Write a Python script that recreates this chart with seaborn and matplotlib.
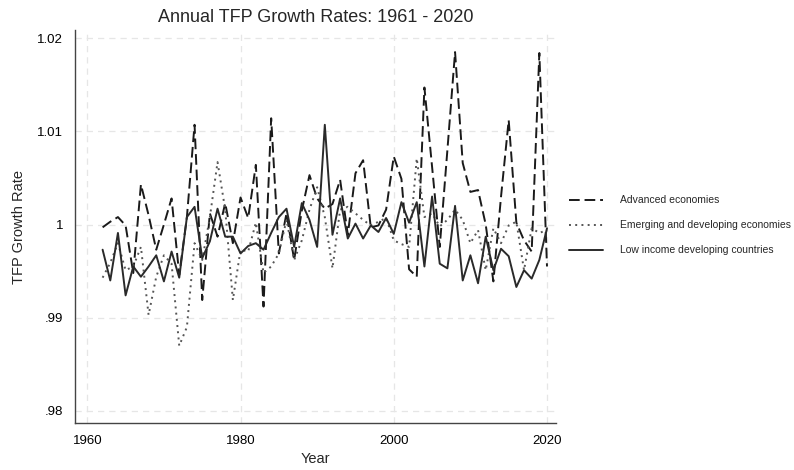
# Annual TFP growth rates, Stata-like look
import pandas as pd
import matplotlib
matplotlib.use("Agg")
import matplotlib.pyplot as plt
import seaborn as sns

# Data
years = list(range(1962, 2021))

advanced = [
    0.9997, 1.0003, 1.0008, 0.9999, 0.9948, 1.0043, 1.0010, 0.9973, 1.0000, 1.0028,  # 1962-1971
    0.9946, 1.0008, 1.0107, 0.9919, 1.0012, 0.9987, 1.0023, 0.9980, 1.0029, 1.0007,  # 1972-1981
    1.0064, 0.9912, 1.0114, 0.9969, 1.0012, 0.9962, 1.0015, 1.0053, 1.0028, 1.0017,  # 1982-1991
    1.0022, 1.0048, 0.9989, 1.0055, 1.0069, 0.9997, 0.9999, 1.0016, 1.0073, 1.0049,  # 1992-2001
    0.9952, 0.9944, 1.0147, 1.0062, 0.9976, 1.0080, 1.0185, 1.0066, 1.0035, 1.0037,  # 2002-2011
    1.0000, 0.9939, 1.0030, 1.0112, 1.0002, 0.9983, 0.9971, 1.0184, 0.9955,          # 2012-2020
]

emerging = [
    0.9943, 0.9959, 0.9980, 0.9951, 0.9955, 0.9976, 0.9903, 0.9944, 0.9967, 0.9958,
    0.9870, 0.9890, 0.9980, 0.9962, 1.0008, 1.0067, 1.0016, 0.9919, 0.9973, 0.9971,
    1.0002, 0.9948, 0.9955, 0.9969, 1.0005, 0.9962, 0.9983, 1.0016, 1.0040, 1.0008,
    0.9953, 1.0016, 1.0019, 1.0012, 1.0005, 0.9999, 1.0003, 1.0007, 0.9983, 0.9979,
    0.9976, 1.0071, 1.0008, 1.0012, 0.9998, 1.0005, 1.0016, 1.0005, 0.9980, 0.9994,
    0.9951, 0.9996, 0.9980, 0.9999, 1.0003, 0.9951, 0.9996, 0.9991, 0.9994,
]

low_income = [
    0.9973, 0.9940, 0.9991, 0.9924, 0.9955, 0.9944, 0.9955, 0.9967, 0.9939, 0.9971,
    0.9943, 1.0008, 1.0019, 0.9964, 0.9982, 1.0017, 0.9987, 0.9987, 0.9969, 0.9977,
    0.9980, 0.9973, 0.9991, 1.0008, 1.0017, 0.9976, 1.0023, 1.0005, 0.9976, 1.0107,
    0.9989, 1.0028, 0.9985, 1.0001, 0.9985, 0.9999, 0.9992, 1.0007, 0.9990, 1.0024,
    1.0002, 1.0024, 0.9955, 1.0030, 0.9958, 0.9953, 1.0020, 0.9940, 0.9967, 0.9937,
    0.9987, 0.9951, 0.9974, 0.9966, 0.9933, 0.9951, 0.9942, 0.9962, 0.9996,
]

series_names = ["Advanced economies", "Emerging and developing economies",
                "Low income developing countries"]

xticks = [1960, 1980, 2000, 2020]
yticks = [0.98, 0.99, 1.00, 1.01, 1.02]
ytick_labels = [".98", ".99", "1", "1.01", "1.02"]

df = pd.DataFrame({"Year": years,
                   series_names[0]: advanced,
                   series_names[1]: emerging,
                   series_names[2]: low_income})

# Style
sns.set_style("white")
plt.rcParams["font.family"] = ["Liberation Sans", "DejaVu Sans"]

fig = plt.figure(figsize=(7.94, 4.70), dpi=100)
ax = fig.add_axes([0.0945, 0.100, 0.606, 0.836])

styles = [
    ("#1a1a1a", (0, (5.5, 2.5))),
    ("#555555", (0, (1, 2.2))),
    ("#2a2a2a", "-"),
]
for name, (col, ls) in zip(series_names, styles):
    sns.lineplot(data=df, x="Year", y=name, ax=ax, color=col,
                 linestyle=ls, linewidth=1.4, label=name)

# Axes
ax.set_xlim(1958.4, 2021.2)
ax.set_ylim(0.97871, 1.02086)
ax.set_xticks(xticks)
ax.set_yticks(yticks)
ax.set_yticklabels(ytick_labels)
ax.tick_params(axis="both", direction="out", length=5, width=0.8,
               colors="#333333", labelsize=9.5, labelcolor="black")
ax.grid(True, color="#e6e6e6", linestyle=(0, (5, 4)), linewidth=0.9)

for side in ["top", "right"]:
    ax.spines[side].set_visible(False)
for side in ["left", "bottom"]:
    ax.spines[side].set_color("#444444")
    ax.spines[side].set_linewidth(1.0)

ax.set_title("Annual TFP Growth Rates: 1961 - 2020", fontsize=13, pad=6)
ax.set_xlabel("Year", fontsize=10.5, labelpad=4)
ax.set_ylabel("TFP Growth Rate", fontsize=10.5, labelpad=8)

ax.legend(loc="center left", bbox_to_anchor=(1.008, 0.503), frameon=False,
          fontsize=7.5, handlelength=3.2, labelspacing=1.45, handletextpad=1.7)

plt.savefig("out.png", dpi=100)
